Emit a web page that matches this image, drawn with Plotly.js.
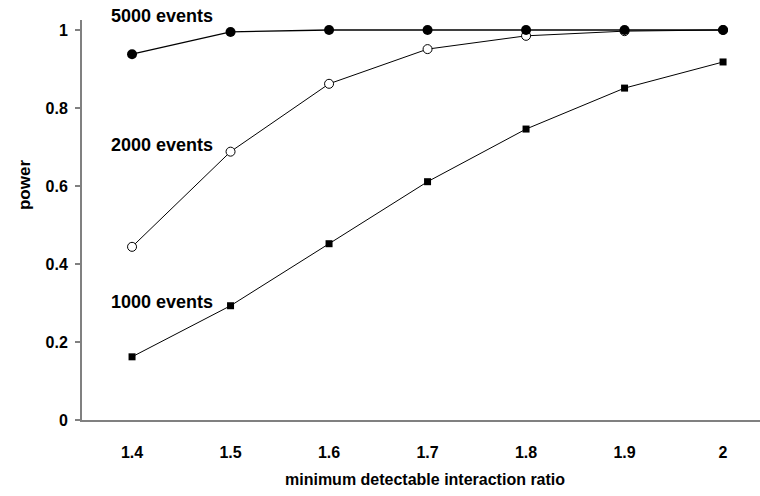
<!DOCTYPE html>
<html>
<head>
<meta charset="utf-8">
<script src="https://cdn.plot.ly/plotly-3.0.1.min.js"></script>
<style>html,body{margin:0;padding:0;background:#fff;}#chart{width:760px;height:496px;}</style>
</head>
<body>
<div id="chart"></div>
<script>
var ratios = [1.4, 1.5, 1.6, 1.7, 1.8, 1.9, 2.0];
var power5000 = [0.938, 0.995, 1.0, 1.0, 1.0, 1.0, 1.0];
var power2000 = [0.444, 0.688, 0.862, 0.951, 0.985, 0.997, 1.0];
var power1000 = [0.162, 0.293, 0.452, 0.611, 0.746, 0.851, 0.918];
var xTickVals = [1.4, 1.5, 1.6, 1.7, 1.8, 1.9, 2.0];
var xTickText = ['1.4', '1.5', '1.6', '1.7', '1.8', '1.9', '2'];
var yTickVals = [0, 0.2, 0.4, 0.6, 0.8, 1.0];
var yTickText = ['0', '0.2', '0.4', '0.6', '0.8', '1'];
var seriesLabels = ['5000 events', '2000 events', '1000 events'];
var xTitle = 'minimum detectable interaction ratio';
var yTitle = 'power';

var F = 'Liberation Sans, Arial, sans-serif';
function bold(size){ return {family: F, size: size, color: '#000', weight: 'bold'}; }

var traces = [
  {x: ratios, y: power1000, mode: 'lines+markers', type: 'scatter',
   line: {color: '#000', width: 1}, marker: {symbol: 'square', size: 7, color: '#000'}},
  {x: ratios, y: power2000, mode: 'lines+markers', type: 'scatter',
   line: {color: '#000', width: 1}, marker: {symbol: 'circle', size: 9, color: '#fff', line: {color: '#000', width: 1}}},
  {x: ratios, y: power5000, mode: 'lines+markers', type: 'scatter',
   line: {color: '#000', width: 1.3}, marker: {symbol: 'circle', size: 10, color: '#000'}}
];

var layout = {
  width: 760, height: 496,
  margin: {l: 82, r: 0, t: 20, b: 76, pad: 0},
  paper_bgcolor: '#fff', plot_bgcolor: '#fff',
  showlegend: false,
  font: {family: F, color: '#000'},
  xaxis: {
    range: [1.3492, 2.0375], tickvals: xTickVals, ticktext: xTickText,
    showgrid: false, zeroline: false, showline: true, linecolor: '#808080', linewidth: 2,
    ticks: '', ticklabelstandoff: 17,
    tickfont: bold(16)
  },
  yaxis: {
    range: [0, 1.0256], tickvals: yTickVals, ticktext: yTickText,
    showgrid: false, zeroline: false, showline: true, linecolor: '#808080', linewidth: 2,
    ticks: 'outside', ticklen: 5, tickcolor: '#808080', tickwidth: 2, ticklabelstandoff: 4,
    tickfont: bold(16)
  },
  annotations: [
    {xref: 'x', yref: 'paper', x: 1.484, y: 1.01, xanchor: 'right', yanchor: 'middle', text: seriesLabels[0], font: bold(18)},
    {xref: 'x', yref: 'paper', x: 1.484, y: 0.6875, xanchor: 'right', yanchor: 'middle', text: seriesLabels[1], font: bold(18)},
    {xref: 'x', yref: 'paper', x: 1.484, y: 0.295, xanchor: 'right', yanchor: 'middle', text: seriesLabels[2], font: bold(18)},
    {xref: 'paper', yref: 'paper', x: 0.506, y: -0.1475, xanchor: 'center', yanchor: 'middle', text: xTitle, font: bold(16)},
    {xref: 'paper', yref: 'paper', x: -0.0855, y: 0.5875, xanchor: 'center', yanchor: 'middle', textangle: -90, text: yTitle, font: bold(17)}
  ].map(function(a){ a.showarrow = false; return a; })
};

Plotly.newPlot('chart', traces, layout, {displayModeBar: false, staticPlot: true});
</script>
</body>
</html>
